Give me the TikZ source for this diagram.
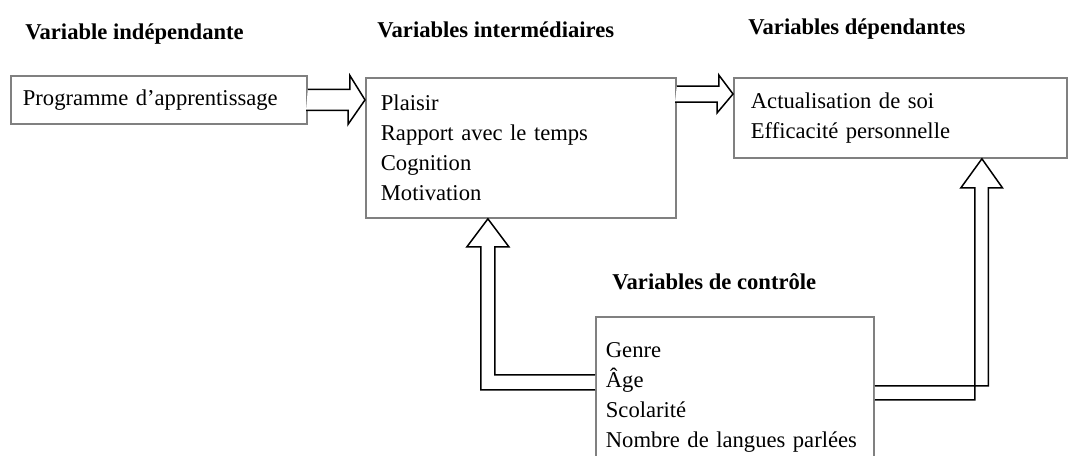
\documentclass[tikz,border=0pt]{standalone}
\usepackage{fontspec}
\setmainfont{Liberation Serif}
\usepackage{tikz}
\usetikzlibrary{calc, positioning}
\definecolor{boxgray}{gray}{0.5}
\tikzstyle{box} = [rectangle, draw=boxgray, line width=0.9pt, align=left, anchor=north west, inner ysep=0pt]
\tikzstyle{title} = [anchor=west, inner sep=0pt, font={\fontsize{11.3pt}{14}\selectfont\bfseries}]
\tikzstyle{fat} = [draw=black, line width=0.75pt, fill=white, line join=miter]
\tikzset{
  font={\fontsize{11.3pt}{15pt}\selectfont}}

\begin{document}
\begin{tikzpicture}[x=0.5pt, y=-0.5pt]
    \path[use as bounding box] (0,0) rectangle (1074,455);
    \clip (0,0) rectangle (1074,455);

    \node (prog) [box, minimum width=148pt, minimum height=24pt, inner xsep=6pt, text width=136pt] at (10,75) {Programme d'apprentissage};
    \node (int) [box, minimum width=155pt, minimum height=70pt, inner xsep=7.5pt, text width=140pt] at (365,77)
    {Plaisir\\Rapport avec le temps\\Cognition\\Motivation};
    \node (dep) [box, minimum width=166.5pt, minimum height=40pt, inner xsep=8.5pt, text width=149.5pt] at (733,77)
    {Actualisation de soi\\Efficacité personnelle};
    \node (ctrl) [box, minimum width=139pt, minimum height=81pt, inner xsep=5pt, text width=129pt] at (595,316)
    {Genre\\Âge\\Scolarité\\Nombre de langues parlées};

    \node (tprog) [title] at (25,34) {Variable indépendante};
    \node (tint) [title] at (377,30) {Variables intermédiaires};
    \node (tdep) [title] at (748,29) {Variables dépendantes};
    \node (tctrl) [title] at (612,282) {Variables de contrôle};

    \coordinate (a2) at ($(int.north east)+(0,17)$);
    \coordinate (tipA) at ($(int.south)+(-33,0)$);
    \coordinate (tipB) at ($(dep.south)+(81.5,0)$);
    \coordinate (startA) at ($(ctrl.west)+(0,-15.5)$);
    \coordinate (startB) at ($(ctrl.east)+(0,-5)$);

    % block arrows
    \draw [fat] ($(prog.east)+(0,-10.5)$) -- ++(42,0) -- ++(0,-14) -- (prog.east -| int.west) -- ++(-17,24.5) -- ++(0,-14) -- ++(-42,0);
    \draw [fat] ($(a2)+(0,-8)$) -- ++(42,0) -- ++(0,-11) -- (a2 -| dep.west) -- ++(-16,19) -- ++(0,-11) -- ++(-42,0);
    \draw [fat] ($(startA)+(0,-7.5)$) -| ($(tipA)+(7,28)$) -- ++(14,0) -- (tipA) -- ++(-21,28) -- ++(14,0) |- ($(startA)+(0,7.5)$);
    \draw [fat] ($(startB)+(0,-7)$) -| ($(tipB)+(6.5,29)$) -- ++(14,0) -- (tipB) -- ++(-21,29) -- ++(14,0) |- ($(startB)+(0,7)$);
\end{tikzpicture}
\end{document}
